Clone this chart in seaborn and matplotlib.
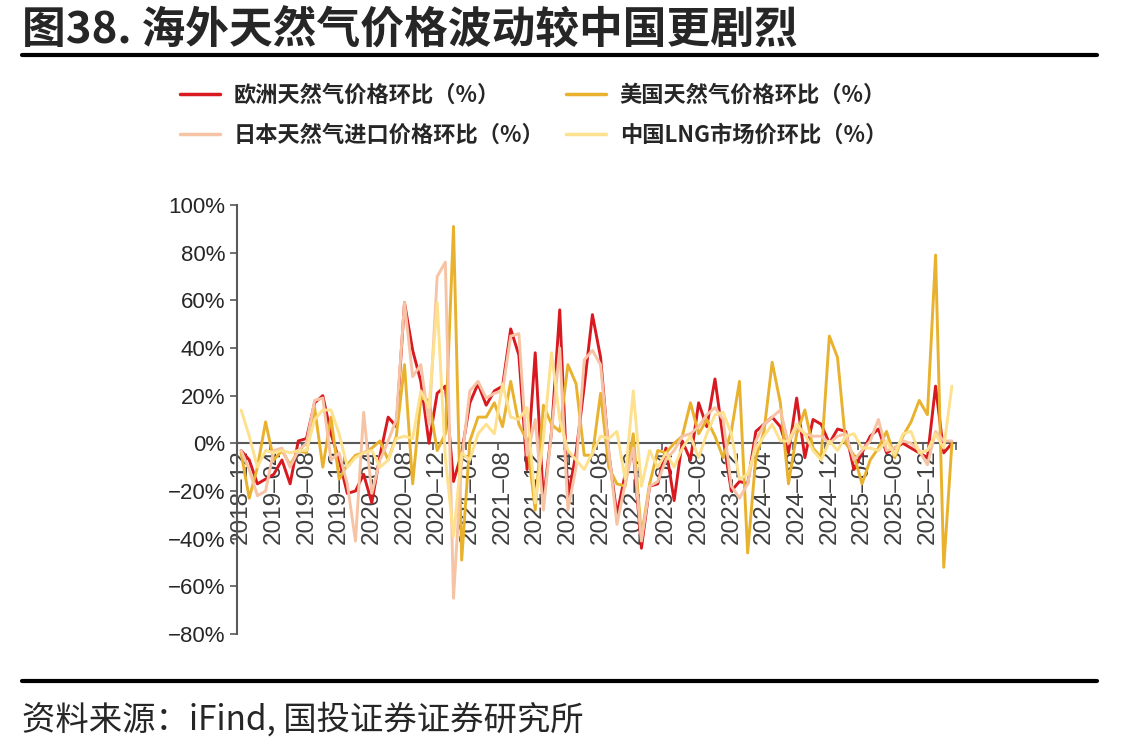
import matplotlib
matplotlib.use('Agg')
import pandas as pd
import numpy as np
import matplotlib.pyplot as plt
import seaborn as sns
from matplotlib.lines import Line2D

# monthly categories 2018-12 .. 2026-03
months = pd.date_range('2018-12-01', periods=88, freq='MS').strftime('%Y–%m').tolist()

europe = [-3, -7, -17, -15, -13, -7, -17, 1, 2, 17,
          20, 4, -7, -21, -20, -13, -25, -5, 11, 7,
          59, 39, 26, 0, 21, 24, -16, -4, 17, 25,
          16, 22, 24, 48, 37, -11, 38, -24, 5, 56,
          -23, -4, 24, 54, 36, -4, -30, -13, -3, -44,
          -18, -17, -2, -24, 1, -7, 17, 7, 27, 2,
          -20, -16, -17, 5, 8, 11, 7, -4, 19, -6,
          10, 8, 0, 6, 5, -11, -4, 3, 6, -4,
          -2, 0, -2, -4, -6, 24, -4, 0]
usa = [-4, -23, -10, 9, -7, -3, -9, -3, -4, 15,
       -10, 11, -15, -9, -5, -4, -2, 1, -7, 3,
       33, -17, 19, 18, -3, 4, 91, -49, 1, 11,
       11, 17, 7, 26, 8, 1, -28, 16, 8, 5,
       33, 25, -5, -5, 21, -10, -17, -18, 4, -39,
       -17, -3, -4, 0, 3, 17, 4, 10, 3, -6,
       5, 26, -46, -6, 5, 34, 17, -17, 4, 14,
       -2, -6, 45, 36, 0, -5, -17, -7, -2, 5,
       -6, 3, 9, 18, 12, 79, -52, 0]
japan = [-3, -11, -22, -20, -3, -2, -10, -3, 0, 18,
         19, -7, -4, -17, -41, 13, -21, -7, 1, 10,
         59, 28, 33, 8, 70, 76, -65, -7, 22, 26,
         19, 21, 22, 45, 46, -5, 10, -28, 5, 40,
         -28, -10, 35, 39, 33, -3, -34, -17, -2, -41,
         -18, -16, -7, -3, 3, 4, 7, 12, 15, 10,
         -18, -23, -17, 1, 8, 11, 14, 0, 7, 4,
         3, 3, 0, 3, 4, -7, -3, 1, 10, -3,
         -2, 1, 0, -3, -9, 5, 1, 1]
china_lng = [14, 3, -10, -3, -4, -3, -4, -3, -3, 10,
             14, 14, 4, -10, -6, -4, -3, -10, -7, 2,
             3, 2, 22, 15, 59, -6, -39, -4, -7, 4,
             8, 4, 25, 11, 10, 15, -25, 2, 38, 10,
             -3, -7, -11, -4, 3, 2, 5, -15, 22, -18,
             -3, -10, -4, -10, -2, 3, -6, 4, 12, 13,
             4, -15, -13, -2, 3, 8, 1, 1, 8, 4,
             -3, -7, 1, -3, 3, 4, -2, -2, -3, 1,
             -5, 4, 5, -4, -3, 4, -2, 24]

names = ['欧洲天然气价格环比（%）', '美国天然气价格环比（%）',
         '日本天然气进口价格环比（%）', '中国LNG市场价环比（%）']
colors = ['#D81920', '#E9B22E', '#F7C3A5', '#FDE18E']

rows = []
for name, vals in zip(names, [europe, usa, japan, china_lng]):
    for i, v in enumerate(vals):
        rows.append({'idx': i, 'val': v, 'series': name})
df = pd.DataFrame(rows)

sns.set_theme(style='white')
plt.rcParams['font.family'] = ['Noto Sans CJK SC', 'DejaVu Sans']
plt.rcParams['axes.unicode_minus'] = True

fig = plt.figure(figsize=(11.47, 7.53), dpi=100)
ax = fig.add_axes([237 / 1147, 1 - 634 / 753, (956 - 237) / 1147, (634 - 205) / 753])

sns.lineplot(data=df, x='idx', y='val', hue='series', hue_order=names,
             palette=colors, linewidth=2.1, ax=ax, legend=False, zorder=3)

ax.set_xlim(-0.5, 87.5)
ax.set_ylim(-80, 100)
ax.set_xlabel('')
ax.set_ylabel('')
for s in ['top', 'right']:
    ax.spines[s].set_visible(False)
ax.spines['bottom'].set_position(('data', 0))
for s in ['left', 'bottom']:
    ax.spines[s].set_color('#595959')
    ax.spines[s].set_linewidth(1.5)

lab_pos = np.arange(0, 88, 4)
ax.set_xticks(lab_pos)
ax.set_xticklabels([months[i] for i in lab_pos], rotation=90, va='top', ha='center',
                   fontsize=17.5, color='#404040', family=['Liberation Sans', 'DejaVu Sans'])
ax.set_xticks(np.arange(0, 89, 4) - 0.5, minor=True)
ax.tick_params(axis='x', which='major', length=0, pad=4)
ax.tick_params(axis='x', which='minor', length=5, width=1.2, color='#595959', direction='out', bottom=True)

yt = np.arange(-80, 101, 20)
ax.set_yticks(yt)
ax.set_yticklabels([f'{v}%'.replace('-', '−') for v in yt], fontsize=16, color='#262626',
                   family=['Liberation Sans', 'DejaVu Sans'])
ax.tick_params(axis='y', length=5, width=1.2, color='#595959', direction='out', left=True)

handles = [Line2D([], [], color=c, lw=2.5) for c in colors]
order = [0, 2, 1, 3]
fig.legend([handles[k] for k in order], [names[k] for k in order], ncol=2,
           loc='center', bbox_to_anchor=(0.465, 0.847), frameon=False,
           prop={'size': 16, 'weight': 'bold'}, handlelength=1.8, handletextpad=0.6,
           columnspacing=1.0, labelspacing=0.75, labelcolor='#262626')

fig.text(22 / 1147, 1 - 31 / 753, '图38. 海外天然气价格波动较中国更剧烈', fontsize=31.5,
         weight='bold', va='center', ha='left', color='#262626')
fig.add_artist(Line2D([22 / 1147, 1097 / 1147], [1 - 55 / 753] * 2, color='black', lw=3,
                      transform=fig.transFigure))
fig.add_artist(Line2D([22 / 1147, 1097 / 1147], [1 - 681 / 753] * 2, color='black', lw=3,
                      transform=fig.transFigure))
fig.text(22 / 1147, 1 - 720 / 753, '资料来源：iFind, 国投证券证券研究所', fontsize=24,
         style='italic', va='center', ha='left', color='#262626')

fig.savefig('out.png', dpi=100)
